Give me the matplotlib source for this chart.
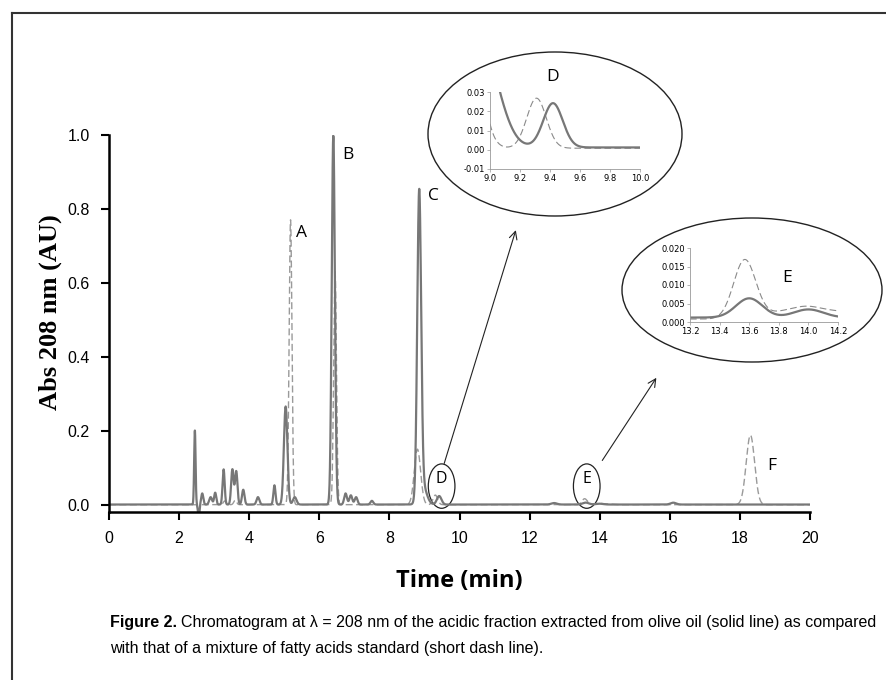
import numpy as np
import matplotlib
matplotlib.use("Agg")
import matplotlib.pyplot as plt
from matplotlib.patches import Ellipse
from matplotlib.lines import Line2D

# peak tables: retention time (min), height (AU), sigma (min)
sample_rt = [2.45, 2.56, 2.66, 2.9, 3.03, 3.27, 3.52, 3.63, 3.83, 4.25, 4.72, 5.04, 5.3,
             6.4, 6.75, 6.9, 7.05, 7.5, 8.85, 8.95, 9.42, 12.7, 13.6, 14.0, 16.1]
sample_h = [0.20, -0.035, 0.03, 0.02, 0.032, 0.095, 0.095, 0.09, 0.04, 0.02, 0.052, 0.265, 0.02,
            0.997, 0.03, 0.025, 0.02, 0.01, 0.82, 0.05, 0.023, 0.004, 0.0052, 0.0022, 0.005]
sample_w = [0.02, 0.02, 0.03, 0.04, 0.03, 0.03, 0.035, 0.035, 0.035, 0.04, 0.03, 0.05, 0.05,
            0.045, 0.04, 0.04, 0.04, 0.04, 0.055, 0.11, 0.065, 0.08, 0.09, 0.1, 0.08]
sample_base = 0.0012

std_rt = [2.55, 3.3, 3.6, 5.18, 6.45, 8.8, 9.31, 13.57, 13.8, 13.98, 14.2, 18.3]
std_h = [-0.02, 0.01, 0.012, 0.77, 0.63, 0.15, 0.026, 0.016, 0.0015, 0.0025, 0.002, 0.188]
std_w = [0.02, 0.04, 0.04, 0.04, 0.04, 0.09, 0.065, 0.075, 0.1, 0.1, 0.15, 0.12]
std_base = 0.0008

peak_labels = ["A", "B", "C", "F"]
label_x = [5.5, 6.83, 9.26, 18.9]
label_y = [0.735, 0.946, 0.835, 0.105]


def trace(t, rt, h, w, base):
    y = np.full_like(t, base)
    for r, a, s in zip(rt, h, w):
        y += a * np.exp(-(t - r) ** 2 / (2 * s ** 2))
    return y


W, H = 886, 680
fig = plt.figure(figsize=(W / 100, H / 100), dpi=100)

# figure frame (top and left only)
fig.add_artist(Line2D([12 / W, 1], [1 - 13 / H] * 2, transform=fig.transFigure, color="#333333", lw=1.5))
fig.add_artist(Line2D([12 / W] * 2, [0, 1 - 13 / H], transform=fig.transFigure, color="#333333", lw=1.5))

ax = fig.add_axes([109 / W, 1 - 512 / H, (810 - 109) / W, (512 - 135) / H])
t = np.linspace(0, 20, 8000)
ax.plot(t, trace(t, std_rt, std_h, std_w, std_base), color="#9a9a9a", lw=1.0, dashes=(5, 2.5))
ax.plot(t, trace(t, sample_rt, sample_h, sample_w, sample_base), color="#777777", lw=1.6)

ax.set_xlim(0, 20)
ax.set_ylim(-0.019, 1.0)
ax.set_xticks(range(0, 21, 2))
ax.set_yticks(np.arange(0, 1.01, 0.2))
ax.set_yticklabels([f"{v:.1f}" for v in np.arange(0, 1.01, 0.2)])
for s in ["top", "right"]:
    ax.spines[s].set_visible(False)
for s in ["left", "bottom"]:
    ax.spines[s].set_linewidth(1.8)
ax.tick_params(direction="out", length=6, width=1.5, labelsize=11.5, pad=8)
for lbl in ax.get_xticklabels() + ax.get_yticklabels():
    lbl.set_family("Liberation Sans")
ax.set_xlabel("Time (min)", fontsize=17, fontweight="bold",
              family=["Open Sans", "DejaVu Sans"], labelpad=16)
ax.set_ylabel("Abs 208 nm (AU)", fontsize=19, fontweight="bold",
              family=["Liberation Serif", "DejaVu Serif"])
ax.yaxis.set_label_coords((62 - 109) / (810 - 109), 0.53)

for lab, x, y in zip(peak_labels, label_x, label_y):
    ax.text(x, y, lab, fontsize=12.5, ha="center", va="center", family="Open Sans")

# small ellipses + letters around D and E
for cx, lab in [(9.49, "D"), (13.63, "E")]:
    ax.add_patch(Ellipse((cx, 0.051), 0.76, 0.12, fill=False, lw=0.9, color="#222222"))
    ax.text(cx, 0.07, lab, fontsize=11.5, ha="center", va="center", family="Open Sans")

ax.annotate("", xy=(11.63, 0.75), xytext=(9.54, 0.105),
            arrowprops=dict(arrowstyle="->", lw=0.8, color="#222222", mutation_scale=14))
ax.annotate("", xy=(15.66, 0.35), xytext=(14.03, 0.114),
            arrowprops=dict(arrowstyle="->", lw=0.8, color="#222222", mutation_scale=14))

# big ellipses for the insets
fig.add_artist(Ellipse((555 / W, 1 - 134 / H), 254 / W, 164 / H, transform=fig.transFigure,
                       fill=False, lw=1.0, color="#222222"))
fig.add_artist(Ellipse((752 / W, 1 - 290 / H), 260 / W, 144 / H, transform=fig.transFigure,
                       fill=False, lw=1.0, color="#222222"))
fig.text(553 / W, 1 - 77 / H, "D", fontsize=12.5, ha="center", va="center", family="Open Sans")
fig.text(787 / W, 1 - 278 / H, "E", fontsize=12.5, ha="center", va="center", family="Open Sans")


def inset(rect, x0, x1, y0, y1, xt, yt, yfmt):
    a = fig.add_axes(rect)
    tt = np.linspace(x0, x1, 1500)
    a.plot(tt, trace(tt, std_rt, std_h, std_w, std_base), color="#8a8a8a", lw=0.8, dashes=(6, 3))
    a.plot(tt, trace(tt, sample_rt, sample_h, sample_w, sample_base), color="#777777", lw=1.6)
    a.set_xlim(x0, x1)
    a.set_ylim(y0, y1)
    a.set_xticks(xt)
    a.set_xticklabels([f"{v:.1f}" for v in xt])
    a.set_yticks(yt)
    a.set_yticklabels([yfmt.format(v) for v in yt])
    for s in ["top", "right"]:
        a.spines[s].set_visible(False)
    for s in ["left", "bottom"]:
        a.spines[s].set_linewidth(0.6)
        a.spines[s].set_color("#999999")
    a.tick_params(direction="out", length=2, width=0.5, labelsize=6, pad=1.5, color="#999999")
    a.patch.set_alpha(0)
    return a


inset([490 / W, 1 - 169 / H, 150 / W, 77 / H], 9.0, 10.0, -0.01, 0.03,
      [9.0, 9.2, 9.4, 9.6, 9.8, 10.0], [-0.01, 0.0, 0.01, 0.02, 0.03], "{:.2f}")
inset([690 / W, 1 - 322 / H, 148 / W, 74 / H], 13.2, 14.2, 0.0, 0.02,
      [13.2, 13.4, 13.6, 13.8, 14.0, 14.2], [0.0, 0.005, 0.01, 0.015, 0.02], "{:.3f}")

# caption, sized so the first line runs from x=110 to x=880 like the reference
cap_font = ["Liberation Sans", "DejaVu Sans"]
line1 = "Chromatogram at \u03bb = 208 nm of the acidic fraction extracted from olive oil (solid line) as compared"
line2 = "with that of a mixture of fatty acids standard (short dash line)."
fs = 12
t1 = fig.text(110 / W, 1 - 622 / H, "Figure 2.", fontsize=fs, fontweight="bold",
              family=cap_font, va="center", ha="left")
t2 = fig.text(0, 1 - 622 / H, line1, fontsize=fs, family=cap_font, va="center", ha="left")
fig.canvas.draw()
r = fig.canvas.get_renderer()
total = t1.get_window_extent(r).width + 5 + t2.get_window_extent(r).width
fs = fs * 770 / total
t1.set_fontsize(fs)
t2.set_fontsize(fs)
fig.canvas.draw()
bb = t1.get_window_extent(r)
t2.set_x((bb.x1 + 4) / W)
fig.text(110 / W, 1 - 648 / H, line2, fontsize=fs, family=cap_font, va="center", ha="left")

fig.savefig("out.png", dpi=100, facecolor="white")
